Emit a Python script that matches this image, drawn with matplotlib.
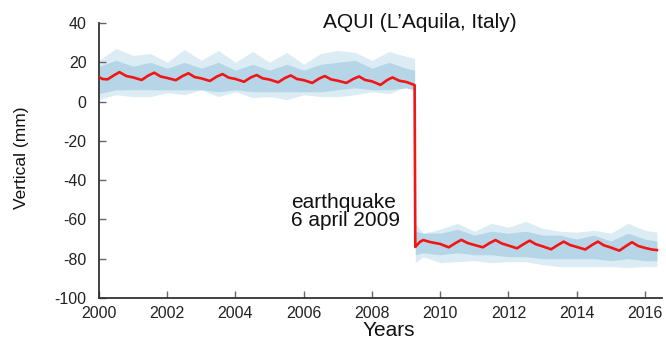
import matplotlib
matplotlib.use("Agg")
import matplotlib.pyplot as plt

plt.rcParams['font.family'] = ['Liberation Sans', 'DejaVu Sans']
plt.rcParams['axes.unicode_minus'] = False

# ---- data ----
# red fitted line (before / after the earthquake)
fit_years = [2000.0, 2000.1, 2000.25, 2000.45, 2000.6, 2000.8,
             2001.0, 2001.25, 2001.45, 2001.62, 2001.8,
             2002.0, 2002.25, 2002.45, 2002.62, 2002.8,
             2003.0, 2003.25, 2003.45, 2003.62, 2003.8,
             2004.0, 2004.25, 2004.45, 2004.62, 2004.8,
             2005.0, 2005.25, 2005.45, 2005.62, 2005.8,
             2006.0, 2006.25, 2006.45, 2006.62, 2006.8,
             2007.0, 2007.25, 2007.45, 2007.62, 2007.8,
             2008.0, 2008.25, 2008.45, 2008.6, 2008.8,
             2009.0, 2009.25,
             2009.27, 2009.4, 2009.5, 2009.7,
             2010.0, 2010.25, 2010.45, 2010.62, 2010.8,
             2011.0, 2011.25, 2011.45, 2011.62, 2011.8,
             2012.0, 2012.25, 2012.45, 2012.62, 2012.8,
             2013.0, 2013.25, 2013.45, 2013.62, 2013.8,
             2014.0, 2014.25, 2014.45, 2014.62, 2014.8,
             2015.0, 2015.25, 2015.45, 2015.62, 2015.8,
             2016.0, 2016.2, 2016.35]
fit_values = [12.5, 11.5, 11.3, 13.5, 15.0, 13.0,
              12.3, 11.0, 13.3, 14.7, 12.8,
              12.0, 10.9, 13.0, 14.4, 12.5,
              11.8, 10.5, 12.7, 14.0, 12.2,
              11.5, 10.1, 12.3, 13.5, 11.8,
              11.2, 9.8, 12.0, 13.3, 11.5,
              10.9, 9.5, 11.7, 13.0, 11.3,
              10.6, 9.5, 11.5, 12.8, 11.0,
              10.3, 8.5, 11.0, 12.3, 10.6,
              10.0, 8.4,
              -74.0, -71.5, -70.5, -71.5,
              -72.5, -74.2, -72.0, -70.4, -72.0,
              -73.0, -74.2, -72.0, -70.5, -72.2,
              -73.3, -74.7, -72.5, -70.8, -72.6,
              -73.7, -75.2, -73.0, -71.3, -73.0,
              -74.0, -75.3, -73.0, -71.3, -73.2,
              -74.3, -75.9, -73.5, -71.6, -73.5,
              -74.5, -75.3, -75.6]

# daily-position cloud: outer extent and dense core, before the earthquake
pre_years = [2000.0, 2000.5, 2001.0, 2001.5, 2002.0, 2002.5, 2003.0, 2003.5,
             2004.0, 2004.5, 2005.0, 2005.5, 2006.0, 2006.5, 2007.0, 2007.5,
             2008.0, 2008.5, 2009.0, 2009.25]
pre_outer_top = [21, 27, 23.5, 24.5, 20, 26.5, 21, 26, 20, 25.5, 20, 25,
                 19, 24.5, 26, 25, 21, 25.5, 23, 22]
pre_outer_bot = [1, 3.5, 2.5, 2.5, 4.5, 3.5, 6, 2.5, 5, 2, 2.5, 1, 3.5, 2.5,
                 2.5, 3.5, 5, 4, 7.5, 5]
pre_core_top = [18, 21, 18, 20, 17, 20, 17, 20, 16, 19, 16, 19, 16, 19, 20,
                21, 17, 20, 17, 16]
pre_core_bot = [4, 6, 6, 6, 6, 6, 6, 5, 6, 5, 5, 5, 5, 5, 6, 7, 6, 6, 7, 6]

# cloud after the earthquake
post_years = [2009.27, 2009.5, 2010.0, 2010.5, 2011.0, 2011.5, 2012.0, 2012.5,
              2013.0, 2013.5, 2014.0, 2014.5, 2015.0, 2015.5, 2016.0, 2016.35]
post_outer_top = [-62, -67, -65, -62, -66, -62, -64, -61, -64.5, -66, -66.5,
                  -65.5, -67, -62, -65.5, -66.5]
post_outer_bot = [-82, -79, -82, -81.5, -81, -82, -81.5, -81.5, -83, -84, -84,
                  -84, -84, -84.5, -84, -84]
post_core_top = [-66, -67, -67, -65, -68, -66, -67, -66, -68, -68, -70, -68,
                 -71, -67, -70, -71]
post_core_bot = [-78, -77, -78, -77, -78, -78, -79, -79, -80, -80, -80, -80,
                 -81, -80, -81, -81]

x_ticks = [2000, 2002, 2004, 2006, 2008, 2010, 2012, 2014, 2016]
y_ticks = [40, 20, 0, -20, -40, -60, -80, -100]

# ---- figure ----
W, H = 666, 338
fig = plt.figure(figsize=(W / 100, H / 100), dpi=100)
ax = fig.add_axes([99 / W, 1 - 298 / H, (662 - 99) / W, (298 - 23) / H])

cloud_light = '#dcecf4'
cloud_col = '#b6d6e8'
for yrs, ot, ob, ct, cb in [(pre_years, pre_outer_top, pre_outer_bot, pre_core_top, pre_core_bot),
                             (post_years, post_outer_top, post_outer_bot, post_core_top, post_core_bot)]:
    ax.fill_between(yrs, ob, ot, color=cloud_light, lw=0, zorder=1)
    ax.fill_between(yrs, cb, ct, color=cloud_col, lw=0, zorder=2)

ax.plot(fit_years, fit_values, color='#f01616', lw=1.9, zorder=3,
        solid_joinstyle='round')

ax.set_xlim(2000, 2016.5)
ax.set_ylim(-100, 40)
ax.set_xticks(x_ticks)
ax.set_yticks(y_ticks)
for s in ['top', 'right']:
    ax.spines[s].set_visible(False)
for s in ['left', 'bottom']:
    ax.spines[s].set_color('#333333')
    ax.spines[s].set_linewidth(1.3)
ax.tick_params(direction='in', length=5, width=1, color='#666666',
               labelsize=11.5, labelcolor='#222222')
ax.tick_params(axis='y', pad=9)
ax.tick_params(axis='x', pad=6)

fig.text(420 / W, 1 - 22 / H, "AQUI (L\u2019Aquila, Italy)", ha='center',
         va='center', fontsize=15, color='#111111')
fig.text(291 / W, 1 - 202 / H, "earthquake", ha='left', va='center',
         fontsize=15, color='#111111')
fig.text(291 / W, 1 - 220 / H, "6 april 2009", ha='left', va='center',
         fontsize=15, color='#111111')
fig.text(389 / W, 1 - 330 / H, "Years", ha='center', va='center',
         fontsize=15, color='#111111')
fig.text(22 / W, 1 - 158 / H, "Vertical (mm)", ha='center', va='center',
         rotation=90, fontsize=12.5, color='#111111')

fig.savefig('out.png', dpi=100)
